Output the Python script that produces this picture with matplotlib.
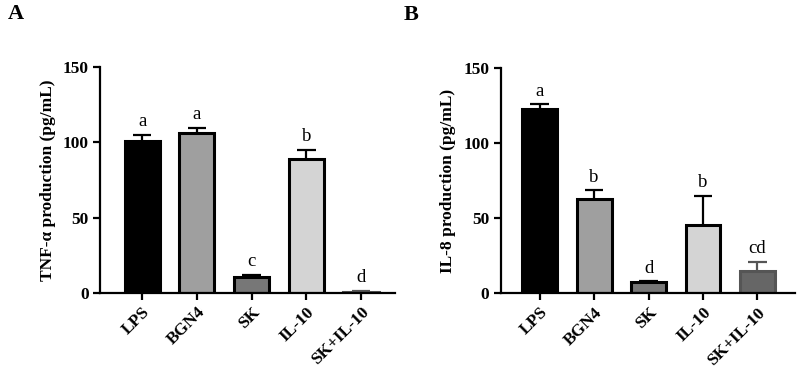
import matplotlib.pyplot as plt
import numpy as np

# Группы и значения (среднее, верхняя ошибка)
groups = ['LPS', 'BGN4', 'SK', 'IL-10', 'SK+IL-10']
tnf_mean = [101, 106, 10.8, 88.7, 1.0]
tnf_err = [4.0, 3.5, 1.2, 6.5, 0.5]
tnf_letters = ['a', 'a', 'c', 'b', 'd']
il8_mean = [123, 62.7, 7.3, 45.3, 14.7]
il8_err = [3.0, 6.0, 0.9, 19.7, 6.3]
il8_letters = ['a', 'b', 'd', 'b', 'cd']

fills = ['#000000', '#9f9f9f', '#777777', '#d4d4d4', '#666666']

plt.rcParams['font.family'] = ['Liberation Serif', 'DejaVu Serif']

fig = plt.figure(figsize=(7.97, 3.70), dpi=100)
ax_a = fig.add_axes([0.1255, 0.208, 0.370, 0.611])
ax_b = fig.add_axes([0.628, 0.207, 0.370, 0.608])


def draw_panel(ax, means, errs, letters, ylabel, edges, xlim):
    x = np.arange(len(groups))
    ax.bar(x, means, width=0.64, color=fills, edgecolor=edges, linewidth=2.2, zorder=2)
    tops = np.array(means) + np.array(errs)
    ax.vlines(x, means, tops, colors=edges, linewidth=1.6, zorder=1)
    ax.hlines(tops, x - 0.17, x + 0.17, colors=edges, linewidth=1.6, zorder=1)
    for xi, t, lab in zip(x, tops, letters):
        ax.text(xi, t + 3, lab, ha='center', va='bottom', fontsize=13.5)
    ax.set_ylim(0, 150)
    ax.set_xlim(*xlim)
    ax.set_yticks([0, 50, 100, 150])
    ax.set_xticks(x)
    ax.set_xticklabels(groups, rotation=45, ha='right', rotation_mode='anchor',
                       fontsize=12.5, fontweight='bold')
    for t in ax.get_yticklabels():
        t.set_fontsize(12.5)
        t.set_fontweight('bold')
    ax.set_ylabel(ylabel, fontsize=12.5, fontweight='bold', labelpad=5)
    ax.spines['top'].set_visible(False)
    ax.spines['right'].set_visible(False)
    ax.spines['left'].set_linewidth(1.6)
    ax.spines['bottom'].set_linewidth(1.6)
    ax.tick_params(width=1.6, length=5, pad=3)


draw_panel(ax_a, tnf_mean, tnf_err, tnf_letters, 'TNF-α production (pg/mL)',
           ['black'] * 4 + ['#555555'], (-0.77, 4.62))
draw_panel(ax_b, il8_mean, il8_err, il8_letters, 'IL-8 production (pg/mL)',
           ['black'] * 4 + ['#555555'], (-0.72, 4.70))

fig.text(0.010, 0.962, 'A', fontsize=16, fontweight='bold', va='center')
fig.text(0.507, 0.960, 'B', fontsize=16, fontweight='bold', va='center')

plt.savefig('out.png', dpi=100)
